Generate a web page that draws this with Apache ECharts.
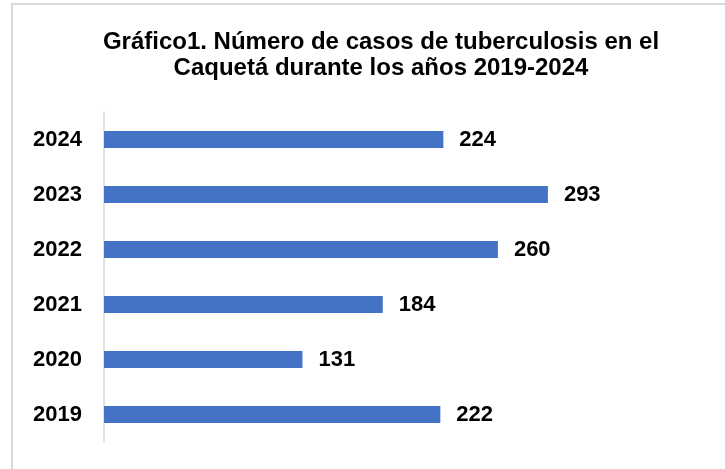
<!DOCTYPE html>
<html>
<head>
<meta charset="utf-8">
<script src="https://cdn.jsdelivr.net/npm/echarts@6/dist/echarts.min.js"></script>
<style>
  html, body { margin: 0; padding: 0; background: #fff; }
  #chart { width: 725px; height: 469px; }
</style>
</head>
<body>
<div id="chart"></div>
<script>
// años y casos (de abajo hacia arriba)
var years = ['2019', '2020', '2021', '2022', '2023', '2024'];
var casos = [222, 131, 184, 260, 293, 224];

var myChart = echarts.init(document.getElementById('chart'));
var option = {
  animation: false,
  backgroundColor: '#fff',
  title: {
    text: 'Gráfico1. Número de casos de tuberculosis en el\nCaquetá durante los años 2019-2024',
    left: 376,
    top: 24,
    textAlign: 'center',
    textStyle: {
      fontFamily: 'Liberation Sans, Arial',
      fontSize: 24,
      fontWeight: 'bold',
      color: '#000',
      lineHeight: 26
    }
  },
  graphic: [{
    type: 'rect',
    shape: { x: 12, y: 4, width: 800, height: 600 },
    style: { fill: 'none', stroke: '#d9d9d9', lineWidth: 2 },
    silent: true
  }],
  grid: {
    left: 104,
    top: 112,
    width: 606,
    height: 330,
    containLabel: false
  },
  xAxis: {
    type: 'value',
    min: 0,
    max: 400,
    show: false
  },
  yAxis: {
    type: 'category',
    data: years,
    axisLine: { show: true, lineStyle: { color: '#d9d9d9', width: 1.5 } },
    axisTick: { show: false },
    axisLabel: {
      margin: 22,
      fontFamily: 'Liberation Sans, Arial',
      fontSize: 22,
      fontWeight: 'bold',
      color: '#000'
    },
    splitLine: { show: false }
  },
  series: [{
    type: 'bar',
    data: casos,
    barWidth: 17,
    itemStyle: { color: '#4472C4' },
    label: {
      show: true,
      position: 'right',
      distance: 16,
      fontFamily: 'Liberation Sans, Arial',
      fontSize: 22,
      fontWeight: 'bold',
      color: '#000'
    }
  }]
};
myChart.setOption(option);
</script>
</body>
</html>
